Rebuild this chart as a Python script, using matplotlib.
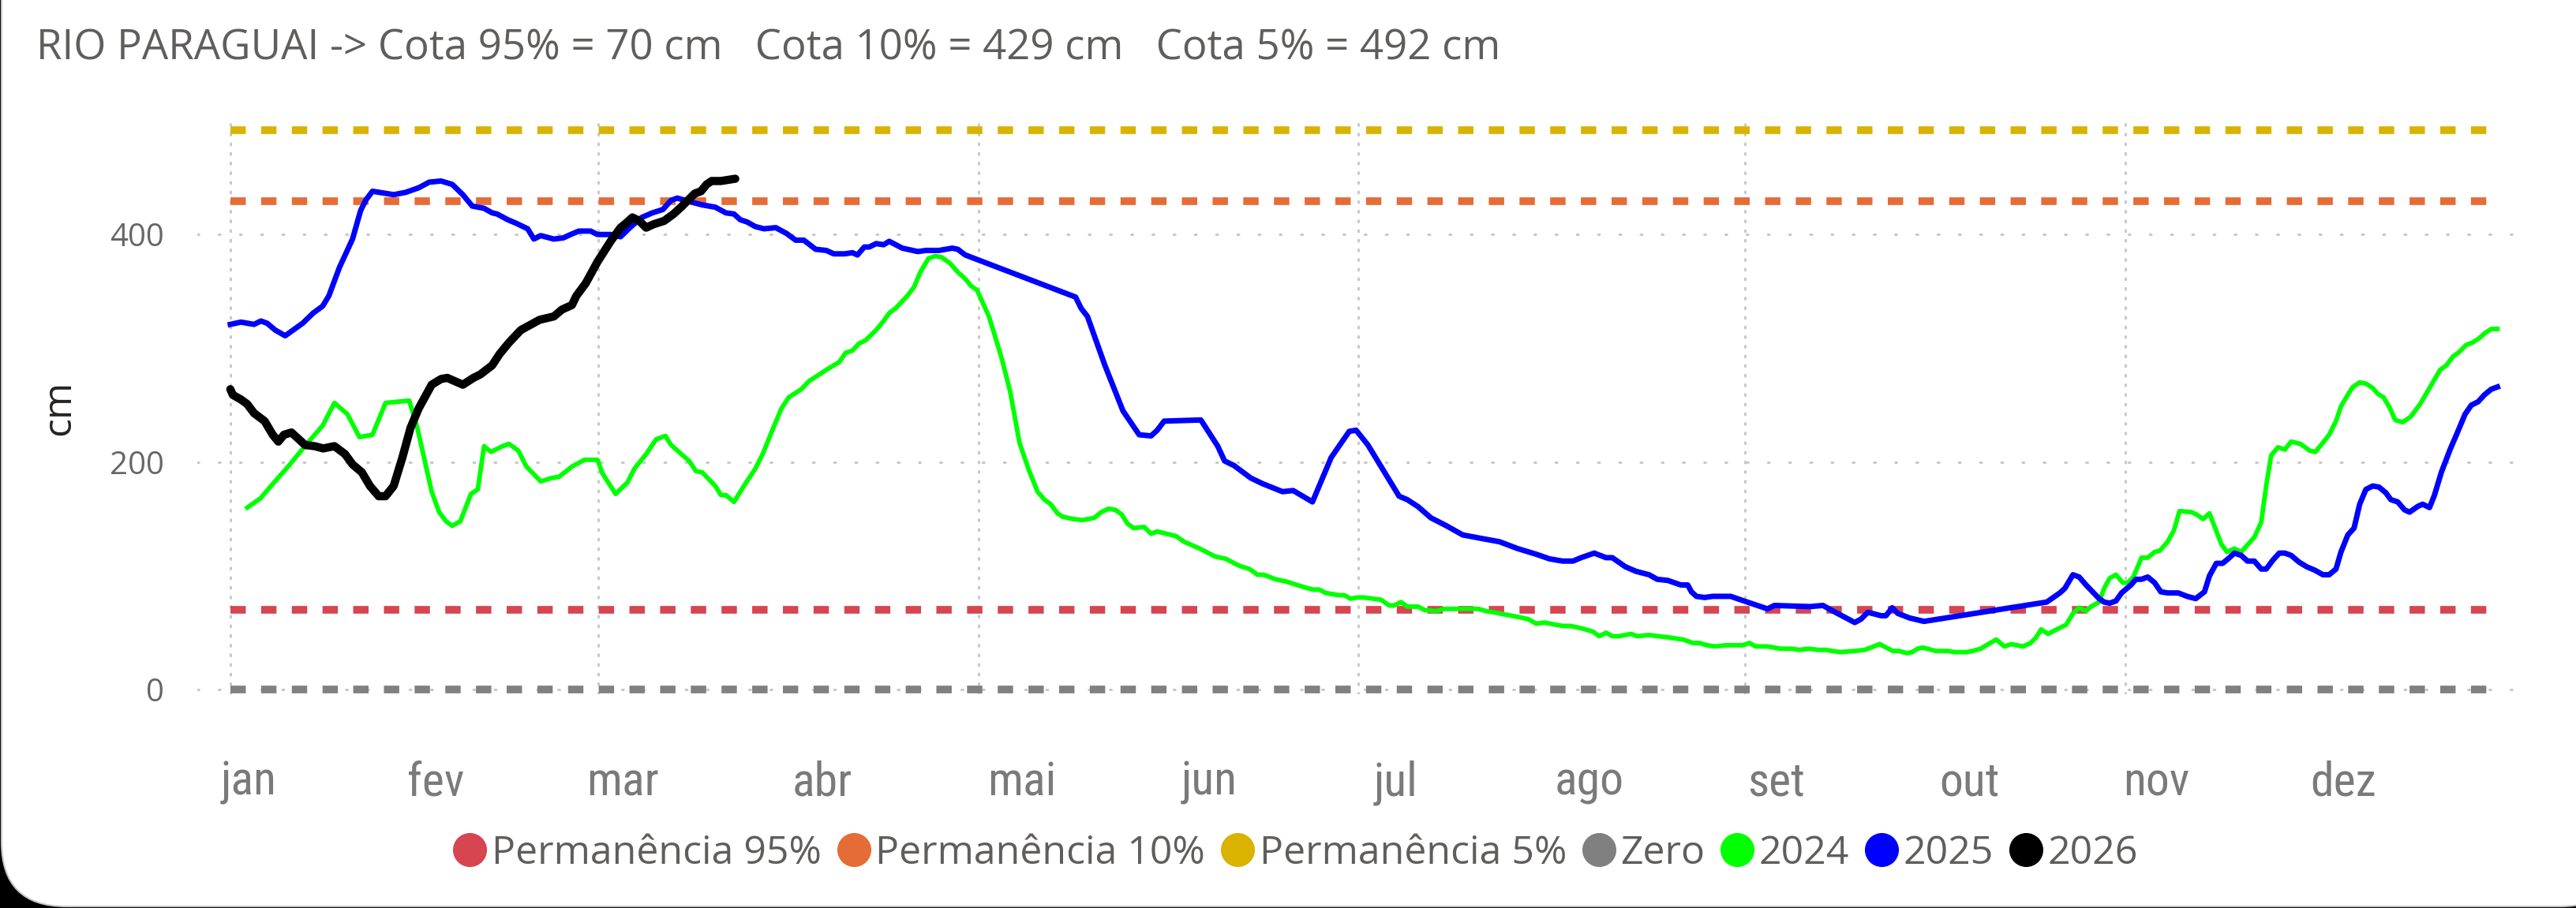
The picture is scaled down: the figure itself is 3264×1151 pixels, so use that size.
import matplotlib
matplotlib.use("Agg")
import matplotlib.pyplot as plt
from matplotlib.lines import Line2D
from matplotlib.patches import FancyBboxPatch
from matplotlib import font_manager as fm

# ---------------- data ----------------
title = "RIO PARAGUAI -> Cota 95% = 70 cm   Cota 10% = 429 cm   Cota 5% = 492 cm"
month_labels = ["jan", "fev", "mar", "abr", "mai", "jun", "jul", "ago", "set", "out", "nov", "dez"]
month_label_days = [3, 33, 63, 95, 127, 157, 187, 218, 248, 279, 309, 339]
grid_month_days = [0, 59, 120, 181, 243, 304]
y_ticks = [0, 200, 400]

ref_days = [0, 364]
perm95 = [70, 70]
perm10 = [429, 429]
perm5 = [492, 492]
zero = [0, 0]

days_2024 = [2.7, 4.8, 7, 9.1, 11.2, 12.9, 14.8, 16.7, 18.8, 20.7, 22.8, 24.9, 28.7, 30, 32.3, 33.5,
             34.6, 35.6, 36.9, 38.6, 39.7, 40.7, 41.8, 43.7, 44.7, 46.2, 47.5, 49.8, 51.5, 52.7, 54.8,
             56.8, 58.9, 59.7, 61.8, 63.7, 64.8, 66.7, 68.3, 69.8, 70.7, 73.6, 74.7, 75.7, 77.8, 78.7,
             79.5, 80.8, 82.5, 84.2, 85.4, 87.1, 88.4, 89.6, 91.6, 92.8, 95.6, 97.7, 98.7, 99.8, 100.8,
             101.9, 103.6, 104.8, 105.7, 106.7, 108.6, 109.7, 110.7, 112, 113.1, 114.1, 115.4, 116.7,
             117.9, 118.8, 119.8, 121.7, 122.6, 123.8, 125.1, 126.6, 128.1, 129.5, 130.6, 131.6, 132.7,
             133.5, 135.2, 136.7, 138.6, 139.7, 140.9, 142, 143, 143.9, 144.9, 146.6, 147.7, 148.7,
             151.7, 153, 155.5, 158, 159.7, 161.8, 163.5, 164.8, 165.8, 167.7, 169.4, 171.7, 173.6,
             174.7, 175.7, 177.8, 178.7, 179.7, 180.8, 181.9, 183.3, 184.6, 185.9, 186.7, 187.8, 188.8,
             190.5, 191.6, 193.5, 194.7, 200.2, 201.5, 202.7, 203.6, 206.5, 208.2, 209.5, 210.8, 213.7,
             215, 216.7, 218.6, 219.6, 220.7, 221.7, 222.8, 224.7, 225.7, 227.6, 230.6, 233.1, 234.6,
             235.7, 236.9, 238.2, 239.9, 242.6, 243.7, 244.7, 246.6, 248.7, 250.4, 251.7, 253.2, 254.7,
             255.9, 258.2, 260.6, 262.2, 264.6, 266.7, 267.7, 269, 269.8, 270.7, 271.5, 273.6, 275.5,
             276.6, 278.5, 279.5, 280.8, 282, 283.3, 284.6, 285.7, 287.6, 288.8, 289.7, 290.5, 291.6,
             293, 294.5, 295.6, 296.6, 297.7, 298.5, 299.8, 300.6, 301.5, 302.5, 303.6, 304.4, 305.3,
             306.6, 307.6, 308.7, 309.5, 310.8, 311.8, 312.7, 314.6, 315.4, 316.5, 317.5, 319.4, 320.3,
             321.5, 322.6, 323.4, 324.7, 325.8, 326.6, 327.4, 328.5, 329.6, 330.6, 332.1, 333.6, 334.5,
             335.7, 336.7, 337.8, 338.6, 339.9, 340.5, 341.6, 342.6, 343.7, 344.5, 345.4, 346.4, 347.3,
             348.5, 349.8, 351.3, 353, 354.5, 355.5, 356.6, 357.4, 358.7, 359.7, 360.8, 361.6, 362.7,
             363.7]
vals_2024 = [160, 168, 182, 195, 209, 220, 232, 252, 242, 222, 224, 252, 254, 230, 174, 156,
             148, 144, 148, 172, 176, 214, 209, 214, 216, 210, 196, 183, 186, 187, 196,
             202, 202, 190, 172, 182, 194, 207, 220, 223, 215, 201, 192, 191, 179, 171,
             171, 165, 180, 194, 207, 230, 247, 257, 264, 271, 281, 288, 296, 298, 304,
             307, 316, 324, 331, 335, 346, 354, 367, 379, 381, 380, 375, 367,
             361, 355, 351, 328, 312, 290, 262, 217, 193, 174, 167, 163, 155,
             152, 150, 149, 151, 156, 159, 158, 154, 146, 142, 143, 137, 139,
             135, 130, 124, 117, 115, 109, 106, 101, 101, 97, 95, 91, 88,
             88, 85, 83, 83, 80, 81, 81, 80, 79, 74, 74, 77, 73,
             73, 70, 69, 71, 71, 69, 68, 67, 64, 62, 58, 59, 56,
             56, 54, 51, 47, 50, 47, 47, 49, 47, 48, 46, 44, 41,
             41, 39, 38, 39, 39, 41, 38, 38, 36, 36, 35, 36, 35,
             35, 33, 34, 35, 40, 34, 34, 32, 33, 36, 37, 34, 34,
             33, 33, 34, 36, 40, 44, 38, 40, 38, 41, 46, 53, 49,
             53, 57, 67, 72, 69, 73, 77, 89, 98, 101, 94, 94, 99,
             116, 116, 121, 122, 130, 140, 157, 156, 154, 150, 155, 128, 121,
             124, 121, 126, 134, 147, 179, 206, 213, 211, 218, 216, 210, 209,
             217, 224, 236, 249, 261, 266, 270, 269, 265, 260, 257, 248, 237,
             235, 240, 251, 267, 281, 285, 293, 296, 303, 305, 309, 313, 317,
             317]

days_2025 = [0, 1.7, 3.8, 4.9, 5.9, 7.2, 8.8, 11.6, 13.3, 14.8, 15.8, 17.5, 19.6, 20.9, 21.7, 22.8,
             26.2, 28.1, 30.2, 31.9, 33.8, 35.6, 37.3, 38.8, 40.7, 42, 42.8, 44.5, 45.8, 47.7, 48.7,
             49.8, 51.9, 53.4, 54.6, 55.9, 57.8, 58.9, 61, 62.6, 64.3, 66, 67.7, 69.4, 70.7, 71.7, 73.6,
             75.7, 77.8, 79.5, 80.8, 81.8, 82.9, 84.2, 85.6, 87.5, 89.2, 90.7, 92, 93.9, 95.6, 96.8,
             98.5, 99.8, 100.6, 101.7, 102.5, 103.6, 104.8, 105.7, 107.8, 110.3, 111.6, 113.7, 115.8,
             116.7, 117.9, 135.6, 136.5, 137.5, 140.3, 143.2, 145.8, 147.7, 148.7, 149.8, 155.7, 158.4,
             159.5, 161, 163.7, 165.6, 168.8, 170.5, 173.6, 176.6, 179.5, 180.6, 182.5, 187.5, 188.8,
             190.5, 192.6, 195.1, 197.7, 200.6, 203.6, 206.5, 209.5, 211.6, 213.7, 215.4, 216.7, 218.8,
             220.7, 221.7, 223.8, 225.5, 227.6, 228.9, 230.6, 232.7, 233.8, 234.4, 235.2, 236.5, 237.8,
             240.7, 242.8, 246.6, 247.7, 253.4, 255.5, 256.8, 260.6, 261.6, 262.7, 264.8, 265.6, 266.6,
             267.5, 269.4, 271.7, 283.3, 291.4, 293.5, 294.3, 295.6, 296.6, 297.7, 299.8, 300.6, 301.5,
             302.5, 303.4, 304.9, 305.7, 306.6, 307.6, 308.7, 309.7, 310.8, 312.5, 313.9, 315.3, 316.7,
             317.5, 318.6, 319.6, 320.5, 321.5, 322.6, 323.6, 324.7, 325.8, 326.6, 327.7, 328.7, 329.6,
             330.6, 331.9, 333.1, 334.4, 335.7, 336.7, 337.8, 338.6, 339.7, 340.7, 341.6, 342.6, 343.7,
             344.7, 345.8, 346.6, 347.7, 348.8, 349.6, 350.9, 351.7, 352.8, 353.6, 354.7, 356.1, 357.2,
             358.5, 359.5, 360.6, 361.6, 362.7, 363.7]
vals_2025 = [321, 323, 321, 324, 322, 316, 311, 322, 331, 337, 346, 371, 396, 421, 430, 438,
             435, 437, 441, 446, 447, 444, 435, 425, 423, 419, 418, 413, 410, 405, 396,
             399, 396, 397, 400, 403, 403, 400, 400, 398, 407, 415, 419, 422, 430, 432, 429,
             426, 424, 419, 418, 413, 411, 407, 405, 406, 401, 395, 395, 387, 386, 383,
             383, 384, 382, 389, 389, 392, 391, 394, 388, 385, 386, 386, 388,
             387, 382, 345, 335, 328, 285, 245, 224, 223, 228, 236, 237, 214,
             201, 197, 186, 181, 174, 175, 165, 204, 227, 228, 215, 170, 167,
             161, 151, 144, 136, 133, 130, 124, 119, 115, 113, 113, 116, 120,
             116, 116, 108, 104, 101, 97, 96, 92, 92, 86, 82, 81, 82,
             82, 78, 71, 74, 73, 74, 70, 59, 62, 68, 65, 65, 72,
             67, 63, 60, 70, 77, 85, 89, 101, 99, 92, 80, 77, 76,
             78, 85, 92, 97, 97, 99, 94, 86, 85, 85, 82, 80, 86,
             100, 111, 111, 115, 120, 118, 113, 113, 106, 106, 114, 120, 120,
             118, 112, 108, 105, 101, 101, 106, 121, 136, 142, 163, 176, 179,
             178, 173, 167, 165, 158, 156, 161, 163, 160, 171, 191, 211, 225,
             242, 250, 253, 259, 264, 266]

days_2026 = [0, 0.4, 1.7, 2.7, 3.8, 5.5, 6.8, 7.7, 8.6, 9.8, 12, 13.5, 14.9, 16.7, 18.4, 19.6, 21.1,
             22.4, 23.8, 24.9, 26.2, 27.6, 28.9, 30.2, 32.3, 33.8, 34.8, 37.3, 39, 40.1, 42, 43.2,
             44.7, 46.6, 49.6, 51.9, 53.2, 54.8, 55.5, 57, 58.9, 61, 62.6, 63.5, 64.5, 65.6, 66.7,
             67.9, 69.6, 71.1, 72.3, 73.4, 74.5, 75.5, 76.4, 77.2, 78.7, 81]
vals_2026 = [264, 259, 255, 251, 243, 236, 224, 218, 224, 226, 215, 214, 212, 214, 207, 198, 191,
             179, 170, 170, 179, 204, 230, 247, 268, 273, 274, 268, 274, 277, 285, 295,
             305, 316, 325, 328, 334, 338, 346, 357, 376, 394, 406, 410, 415, 412, 406,
             409, 412, 418, 424, 430, 436, 438, 444, 447, 447, 449]

# ---------------- style ----------------
W, H = 3264, 1151
DPI = 100
C95, C10, C5, CZERO = "#D64550", "#E66C37", "#D9B300", "#808080"
C24, C25, C26 = "#00FF00", "#0000FF", "#000000"
GRID = "#C8C8C8"

avail = {f.name for f in fm.fontManager.ttflist}
ui_font = ["Open Sans", "DejaVu Sans"] if "Open Sans" in avail else ["DejaVu Sans"]
narrow = "Liberation Sans Narrow" if "Liberation Sans Narrow" in avail else ("Roboto Condensed" if "Roboto Condensed" in avail else ui_font[0])

fig = plt.figure(figsize=(W / DPI, H / DPI), dpi=DPI, facecolor="black")
card = FancyBboxPatch((2 / W, 2 / H), (W + 60) / W, 1.2, boxstyle="round,pad=0,rounding_size=0.025",
                      transform=fig.transFigure, facecolor="white", edgecolor="#C8C8C8", linewidth=1.5,
                      mutation_aspect=W / H, zorder=-10)
fig.patches.append(card)

left, right = 250 / W, 3185 / W
bottom, top = 1 - 880 / H, 1 - 153 / H
ax = fig.add_axes([left, bottom, right - left, top - bottom], zorder=1)
ax.set_facecolor("none")
ax.set_xlim(-5.3, 366.3)
ax.set_ylim(-4, 500)

for s in ax.spines.values():
    s.set_visible(False)

# grid
for d in grid_month_days:
    ax.axvline(d, color=GRID, linestyle=(0, (0.6, 3.4)), linewidth=2.2, dash_capstyle="round", zorder=1)
ax.set_yticks(y_ticks)
ax.yaxis.grid(True, color=GRID, linestyle=(0, (0.6, 8.2)), linewidth=2.2, dash_capstyle="round", zorder=1)
ax.set_axisbelow(True)

# reference dashed lines
dash = (0, (2.0, 2.0))
for vals, c in [(zero, CZERO), (perm95, C95), (perm10, C10), (perm5, C5)]:
    ax.plot(ref_days, vals, color=c, linewidth=7.0, linestyle=dash, dash_capstyle="butt", zorder=2)

ax.plot(days_2024, vals_2024, color=C24, linewidth=4.2, solid_joinstyle="round", zorder=3)
ax.plot(days_2025, vals_2025, color=C25, linewidth=5.0, solid_joinstyle="round", zorder=4)
ax.plot(days_2026, vals_2026, color=C26, linewidth=7.5, solid_joinstyle="round", solid_capstyle="round", zorder=5)

# ticks
ax.set_xticks(month_label_days)
ax.set_xticklabels(month_labels, family=[narrow, "DejaVu Sans"], fontsize=43, color="#7A7A7A")
ax.tick_params(axis="x", length=0, pad=60)
ax.set_yticklabels([str(v) for v in y_ticks], family=ui_font, fontsize=29, color="#666666")
ax.tick_params(axis="y", length=0, pad=30)
ax.set_ylabel("cm", family=ui_font, fontsize=36, color="#252423", labelpad=28)

fig.text(46 / W, 1 - 62 / H, title, family=ui_font, fontsize=38, color="#605E5C", va="center", ha="left")

labels = ["Permanência 95%", "Permanência 10%", "Permanência 5%", "Zero", "2024", "2025", "2026"]
colors = [C95, C10, C5, CZERO, C24, C25, C26]
handles = [Line2D([], [], linestyle="none", marker="o", markersize=30, markerfacecolor=c, markeredgecolor=c)
           for c in colors]
leg = fig.legend(handles, labels, loc="center", bbox_to_anchor=(0.502, 1 - 1082 / H), ncol=7, frameon=False,
                 handletextpad=0.0, columnspacing=0.27, handlelength=1.1,
                 prop={"family": ui_font, "size": 36})
for t in leg.get_texts():
    t.set_color("#605E5C")

fig.savefig("out.png", dpi=DPI, facecolor=fig.get_facecolor())
